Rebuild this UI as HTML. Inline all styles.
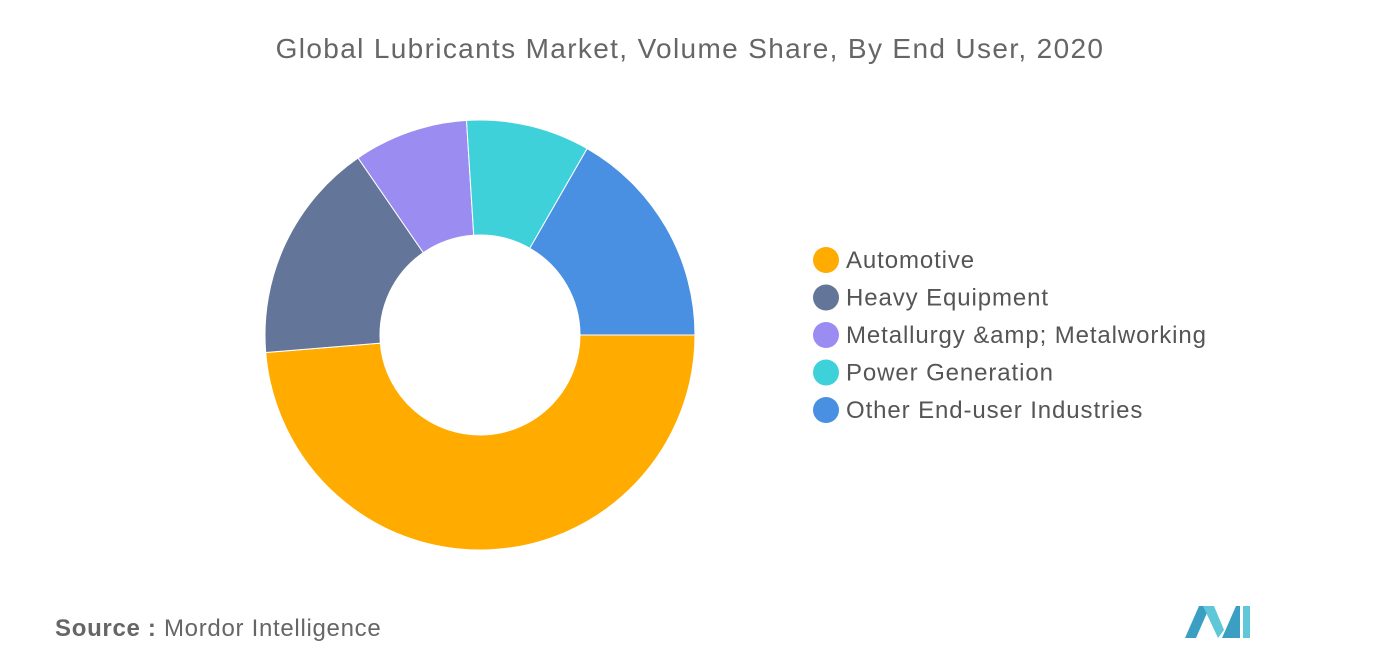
<!DOCTYPE html>
<html><head><meta charset="utf-8"><style>
html,body{margin:0;padding:0;background:#fff;width:1376px;height:665px;overflow:hidden;font-family:"Liberation Sans",sans-serif}
</style></head><body>
<svg width="1376" height="665" xmlns="http://www.w3.org/2000/svg">
<text x="690" y="58" text-anchor="middle" font-size="28" letter-spacing="1.35" fill="#666">Global Lubricants Market, Volume Share, By End User, 2020</text>
<g id="donut"></g>
<g id="legend"></g>
<text x="55" y="636" font-size="24" letter-spacing="0.7" fill="#666"><tspan font-weight="bold">Source :</tspan> Mordor Intelligence</text>
<g>
<polygon points="1185,638 1199,606 1210,606 1196,638" fill="#3a9fc2"/>
<polygon points="1203,606 1214,606 1224,630 1218,638" fill="#5fc7d8"/>
<polygon points="1222,638 1236,606 1240,606 1240,638" fill="#3a9fc2"/>
<polygon points="1243,606 1250,606 1250,638 1243,638" fill="#5fc7d8"/>
</g>
</svg>
<script>
const categories=["Automotive","Heavy Equipment","Metallurgy &amp; Metalworking","Power Generation","Other End-user Industries"];
const values=[48.7,16.7,8.6,9.3,16.7];
const colors=["#FFAB00","#637599","#9B8CF2","#3FD1D9","#4A90E2"];
const NS="http://www.w3.org/2000/svg";
const cx=480,cy=335,R=215,r=100;
const total=values.reduce((a,b)=>a+b,0);
const donut=document.getElementById('donut');
let a0=0;
function pt(rad,a){return [cx+rad*Math.cos(a),cy+rad*Math.sin(a)];}
values.forEach((v,i)=>{
  const a1=a0+v/total*2*Math.PI;
  const large=(a1-a0)>Math.PI?1:0;
  const p1=pt(R,a0),p2=pt(R,a1),p3=pt(r,a1),p4=pt(r,a0);
  const path=document.createElementNS(NS,'path');
  path.setAttribute('d',`M${p1[0]},${p1[1]} A${R},${R} 0 ${large} 1 ${p2[0]},${p2[1]} L${p3[0]},${p3[1]} A${r},${r} 0 ${large} 0 ${p4[0]},${p4[1]} Z`);
  path.setAttribute('fill',colors[i]);
  path.setAttribute('stroke','#fff');
  path.setAttribute('stroke-width','1');
  
  
  donut.appendChild(path);
  a0=a1;
});
const legend=document.getElementById('legend');
categories.forEach((c,i)=>{
  const y=260+i*37.5;
  const g=document.createElementNS(NS,'g');
  
  
  const ci=document.createElementNS(NS,'circle');
  ci.setAttribute('cx',826);ci.setAttribute('cy',y);ci.setAttribute('r',13);ci.setAttribute('fill',colors[i]);
  const t=document.createElementNS(NS,'text');
  t.setAttribute('x',846);t.setAttribute('y',y+8);t.setAttribute('font-size','24');t.setAttribute('letter-spacing','0.9');t.setAttribute('fill','#555');
  t.textContent=c;
  g.appendChild(ci);g.appendChild(t);legend.appendChild(g);
});
</script>
</body></html>
